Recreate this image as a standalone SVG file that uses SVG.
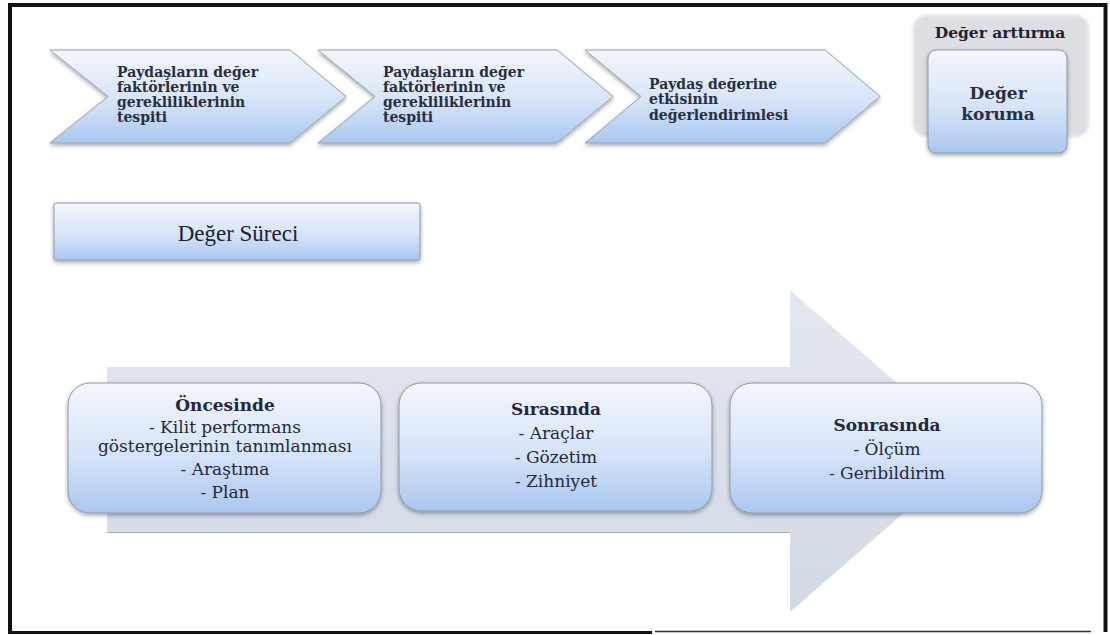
<svg xmlns="http://www.w3.org/2000/svg" width="1110" height="635" viewBox="0 0 1110 635">
  <defs>
    <linearGradient id="blueGrad" x1="0" y1="0" x2="0" y2="1">
      <stop offset="0" stop-color="#f3f6fc"/>
      <stop offset="0.55" stop-color="#d6e4f8"/>
      <stop offset="1" stop-color="#a9c7f0"/>
    </linearGradient>
    <linearGradient id="arrowGrad" x1="0" y1="0" x2="0" y2="1">
      <stop offset="0" stop-color="#e3e7ef"/>
      <stop offset="1" stop-color="#d2d9e6"/>
    </linearGradient>
    <filter id="shadow" x="-10%" y="-10%" width="120%" height="130%">
      <feDropShadow dx="0" dy="2" stdDeviation="2" flood-color="#000" flood-opacity="0.35"/>
    </filter>
    <filter id="soft" x="-10%" y="-10%" width="120%" height="120%">
      <feGaussianBlur stdDeviation="1.5"/>
    </filter>
  </defs>
  <style>
    .chev { fill: url(#blueGrad); stroke: #9aa2ae; stroke-width: 1; filter: url(#shadow); }
    .box { fill: url(#blueGrad); stroke: #8e97a6; stroke-width: 1; filter: url(#shadow); }
    .ct { font-family: "DejaVu Serif", "Liberation Serif", serif; font-size: 14px; font-weight: bold; fill: #2a2f3d; }
    .bt { font-family: "DejaVu Serif", "Liberation Serif", serif; font-size: 17px; fill: #23283a; text-anchor: middle; }
    .bh { font-weight: bold; }
  </style>
  <rect x="0" y="0" width="1110" height="635" fill="#ffffff"/>

  <!-- frame -->
  <g id="frame" fill="none" stroke="#111">
    <path d="M10 633 L10 5 L1105.5 5 L1105.5 632" stroke-width="4"/>
    <line x1="8" y1="632.5" x2="652" y2="632.5" stroke-width="3"/>
    <line x1="655" y1="631.5" x2="1091" y2="631.5" stroke-width="1.5" stroke="#333"/>
  </g>

  <!-- big process arrow -->
  <g id="process-arrow">
    <path d="M107 367 L790 367 L790 290 L975 451 L790 612 L790 533 L107 533 Z" fill="url(#arrowGrad)"/>
    <line x1="107" y1="532.5" x2="790" y2="532.5" stroke="#a6acb8" stroke-width="1.2"/>
  </g>

  <!-- chevrons -->
  <g id="chevron-1">
    <path class="chev" d="M50 50 L290 50 L346 96.5 L290 143 L50 143 L108 96.5 Z"/>
    <text class="ct" x="117" y="77">Paydaşların değer</text>
    <text class="ct" x="117" y="92">faktörlerinin ve</text>
    <text class="ct" x="117" y="107">gerekliliklerinin</text>
    <text class="ct" x="117" y="122">tespiti</text>
  </g>
  <g id="chevron-2">
    <path class="chev" d="M318 50 L557 50 L613 96.5 L557 143 L318 143 L375 96.5 Z"/>
    <text class="ct" x="383" y="77">Paydaşların değer</text>
    <text class="ct" x="383" y="92">faktörlerinin ve</text>
    <text class="ct" x="383" y="107">gerekliliklerinin</text>
    <text class="ct" x="383" y="122">tespiti</text>
  </g>
  <g id="chevron-3">
    <path class="chev" d="M585 50 L825 50 L880 96.5 L825 143 L585 143 L641 96.5 Z"/>
    <text class="ct" x="649" y="89">Paydaş değerine</text>
    <text class="ct" x="649" y="104">etkisinin</text>
    <text class="ct" x="649" y="120">değerlendirimlesi</text>
  </g>

  <!-- Değer arttırma -->
  <g id="deger-arttirma">
    <rect x="913" y="15" width="176" height="122" rx="14" fill="#dcdee3" filter="url(#soft)"/>
    <text x="1000" y="38" font-family="'DejaVu Serif', 'Liberation Serif', serif" font-size="15.5" font-weight="bold" fill="#1e2230" text-anchor="middle">Değer arttırma</text>
  </g>
  <g id="deger-koruma">
    <rect class="box" x="928" y="50" width="139" height="103" rx="8"/>
    <text x="998" y="99" font-family="'DejaVu Serif', 'Liberation Serif', serif" font-size="17" font-weight="bold" fill="#2a2f3d" text-anchor="middle">Değer</text>
    <text x="998" y="120" font-family="'DejaVu Serif', 'Liberation Serif', serif" font-size="17" font-weight="bold" fill="#2a2f3d" text-anchor="middle">koruma</text>
  </g>

  <!-- Değer Süreci -->
  <g id="deger-sureci">
    <rect class="box" x="54" y="203" width="366" height="57" rx="2"/>
    <text x="238" y="241" font-family="'Liberation Serif', 'Times New Roman', serif" font-size="23" fill="#1e2230" text-anchor="middle">Değer Süreci</text>
  </g>

  <!-- stage boxes -->
  <g id="oncesinde">
    <rect class="box" x="68" y="383" width="313" height="130" rx="22"/>
    <text class="bt bh" x="225" y="411">Öncesinde</text>
    <text class="bt" x="225" y="433">- Kilit performans</text>
    <text class="bt" x="225" y="452">göstergelerinin tanımlanması</text>
    <text class="bt" x="225" y="475">- Araştıma</text>
    <text class="bt" x="225" y="498">- Plan</text>
  </g>
  <g id="sirasinda">
    <rect class="box" x="399" y="383" width="313" height="128" rx="22"/>
    <text class="bt bh" x="556" y="415">Sırasında</text>
    <text class="bt" x="556" y="439">- Araçlar</text>
    <text class="bt" x="556" y="463">- Gözetim</text>
    <text class="bt" x="556" y="487">- Zihniyet</text>
  </g>
  <g id="sonrasinda">
    <rect class="box" x="730" y="383" width="312" height="130" rx="22"/>
    <text class="bt bh" x="887" y="431">Sonrasında</text>
    <text class="bt" x="887" y="455">- Ölçüm</text>
    <text class="bt" x="887" y="479">- Geribildirim</text>
  </g>

  <g id="connectors"/>
</svg>
